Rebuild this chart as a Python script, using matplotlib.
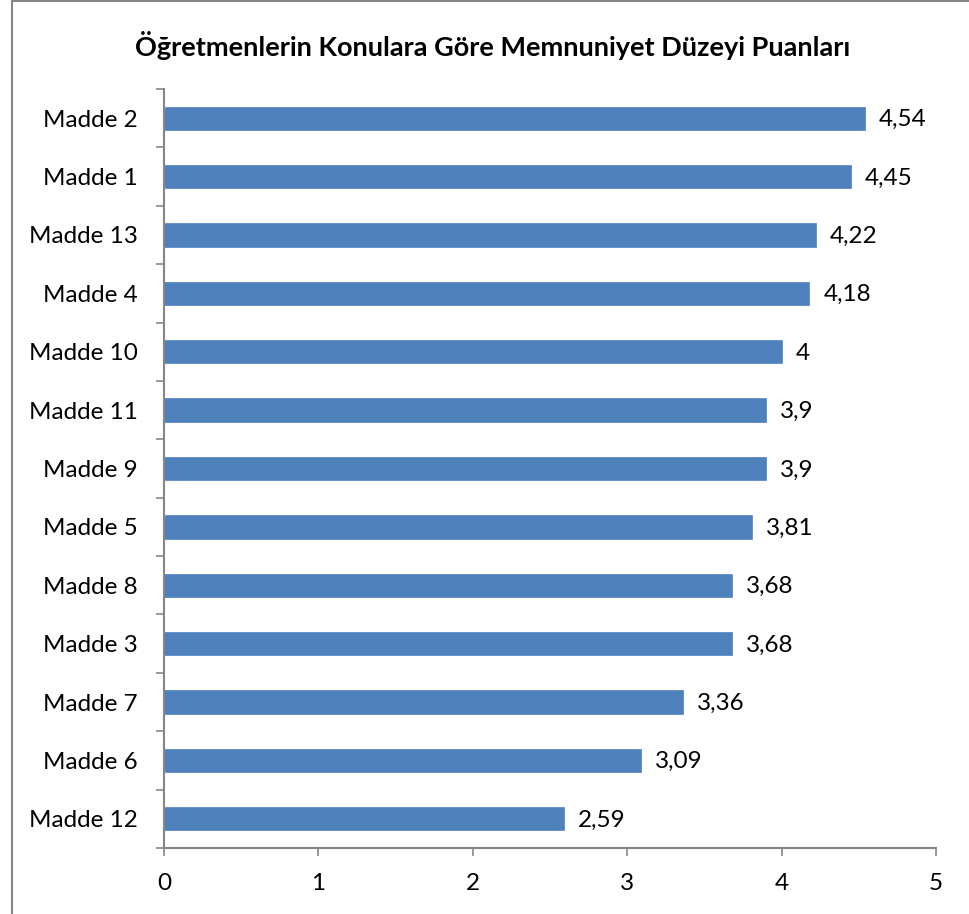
import matplotlib
matplotlib.use("Agg")
from matplotlib import pyplot as plt
from matplotlib.lines import Line2D

plt.rcParams['font.family'] = ['Lato', 'DejaVu Sans']

# data (top to bottom as in the chart)
maddeler = ["Madde 2", "Madde 1", "Madde 13", "Madde 4", "Madde 10", "Madde 11",
            "Madde 9", "Madde 5", "Madde 8", "Madde 3", "Madde 7", "Madde 6", "Madde 12"]
puanlar = [4.54, 4.45, 4.22, 4.18, 4.0, 3.9, 3.9, 3.81, 3.68, 3.68, 3.36, 3.09, 2.59]
etiketler = ["4,54", "4,45", "4,22", "4,18", "4", "3,9", "3,9", "3,81", "3,68",
             "3,68", "3,36", "3,09", "2,59"]
x_ticks = [0, 1, 2, 3, 4, 5]

W, H = 969, 914
fig = plt.figure(figsize=(W / 100, H / 100), dpi=100)
ax = fig.add_axes([164 / W, 1 - 848 / H, (936 - 164) / W, (848 - 89) / H])

gray = "#868686"
n = len(maddeler)
pos = list(range(n))
ax.barh(pos, puanlar, height=0.4, color="#4F81BD", edgecolor="#4F81BD", linewidth=0.5)

for p, v, lab in zip(pos, puanlar, etiketler):
    ax.annotate(lab, (v, p), xytext=(10, -1), textcoords="offset points",
                ha="left", va="center", fontsize=17.5, color="black")

ax.set_xlim(0, 5)
ax.set_ylim(n - 0.5, -0.5)
ax.set_xticks(x_ticks)
ax.set_xticklabels([str(t) for t in x_ticks], fontsize=17.5)
ax.set_yticks(pos)
ax.set_yticklabels(maddeler, fontsize=17.5)
ax.tick_params(axis="y", length=0, pad=19)
ax.tick_params(axis="x", length=6, width=1.2, color=gray, pad=12, direction="out")

# category boundary ticks on the left axis
ax.set_yticks([i - 0.5 for i in range(n + 1)], minor=True)
ax.tick_params(axis="y", which="minor", length=6, width=1.2, color=gray, direction="out")

for s in ["top", "right"]:
    ax.spines[s].set_visible(False)
for s in ["left", "bottom"]:
    ax.spines[s].set_color(gray)
    ax.spines[s].set_linewidth(1.5)

fig.text(493 / W, 1 - 45 / H, "Öğretmenlerin Konulara Göre Memnuniyet Düzeyi Puanları",
         ha="center", va="center", fontsize=19.5, fontweight="bold")

# chart border (only top and left visible)
fig.add_artist(Line2D([12 / W, 1], [1 - 1 / H, 1 - 1 / H], color=gray, lw=1.5,
                      transform=fig.transFigure))
fig.add_artist(Line2D([12 / W, 12 / W], [0, 1 - 1 / H], color=gray, lw=1.5,
                      transform=fig.transFigure))

fig.savefig("out.png", dpi=100)
